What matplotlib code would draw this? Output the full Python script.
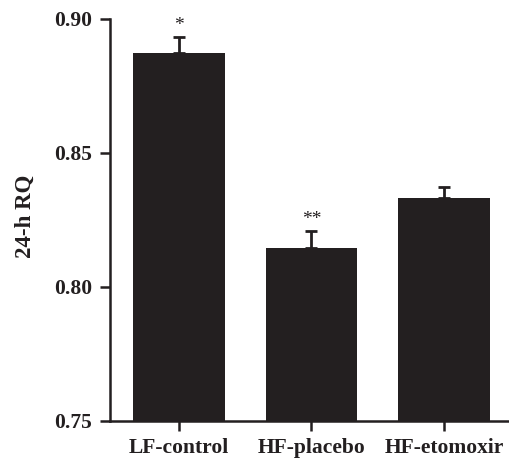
import matplotlib.pyplot as plt

# --- data ---
groups = ["LF-control", "HF-placebo", "HF-etomoxir"]
rq_mean = [0.8873, 0.8146, 0.8332]
rq_sem = [0.0060, 0.0063, 0.0041]
marks = ["*", "**", ""]
y_ticks = [0.75, 0.80, 0.85, 0.90]

plt.rcParams["font.family"] = ["Liberation Serif", "DejaVu Serif"]
bar_color = "#231f20"

fig = plt.figure(figsize=(5.09, 4.61), dpi=100)
ax = fig.add_axes([0.216, 0.087, 0.784, 0.872])

x = list(range(len(groups)))
ax.bar(x, rq_mean, width=0.69, color=bar_color, zorder=2)
ax.errorbar(x, rq_mean, yerr=[[0] * len(x), rq_sem], fmt="none",
            ecolor=bar_color, elinewidth=2, capsize=4.5, capthick=2, zorder=3)

# significance stars above the error bars
for xi, m, s, mk in zip(x, rq_mean, rq_sem, marks):
    if mk:
        ax.text(xi, m + s + 0.0012, mk, ha="center", va="bottom",
                fontsize=14, color=bar_color)

ax.set_xlim(-0.52, 2.49)
ax.set_ylim(0.75, 0.90)
ax.set_yticks(y_ticks)
ax.set_yticklabels([f"{t:.2f}" for t in y_ticks])
ax.set_xticks(x)
ax.set_xticklabels(groups)

for lbl in ax.get_xticklabels() + ax.get_yticklabels():
    lbl.set_fontweight("bold")
    lbl.set_fontsize(15.5)
    lbl.set_color(bar_color)

ax.set_ylabel("24-h RQ", fontsize=16.5, fontweight="bold", color=bar_color)
ax.yaxis.set_label_coords(-0.186, 0.51)

ax.spines["top"].set_visible(False)
ax.spines["right"].set_visible(False)
ax.spines["left"].set_linewidth(1.8)
ax.spines["bottom"].set_linewidth(1.8)
ax.spines["left"].set_color(bar_color)
ax.spines["bottom"].set_color(bar_color)
ax.tick_params(axis="both", direction="out", length=7, width=1.8, colors=bar_color)
ax.tick_params(axis="x", pad=5)
ax.tick_params(axis="y", pad=6)

fig.savefig("out.png", dpi=100)
